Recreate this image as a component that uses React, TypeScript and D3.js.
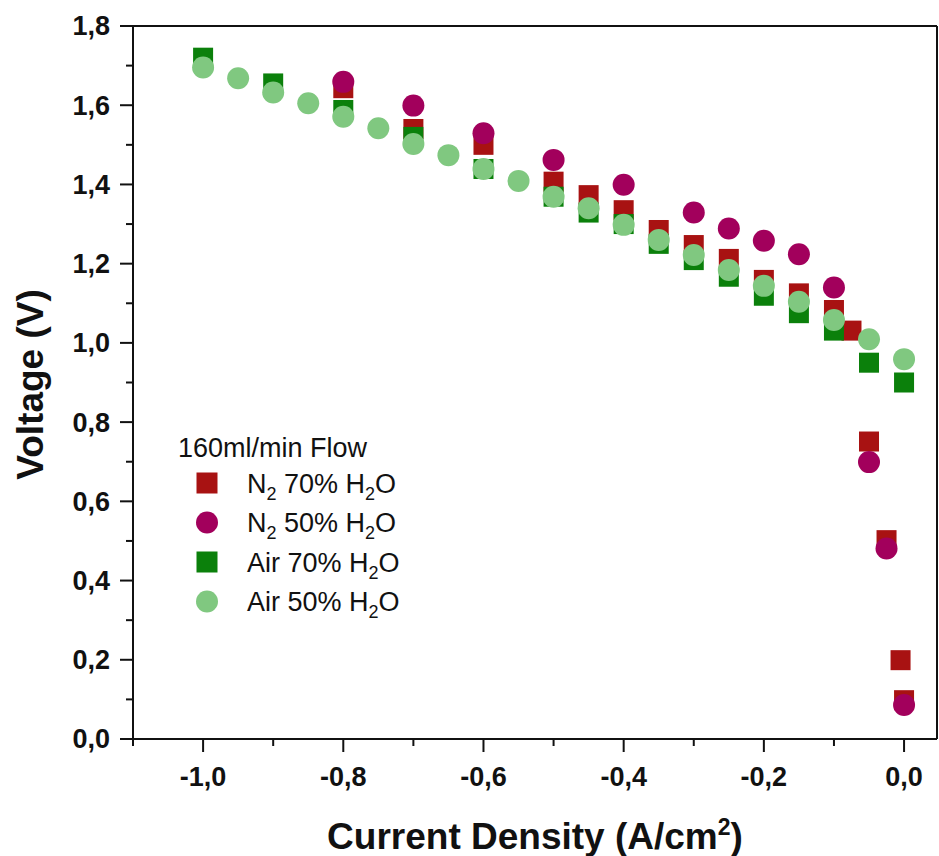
import React from "react";
import * as d3 from "d3";

// ---- data ----
const n2_70_x = [-0.8, -0.7, -0.6, -0.5, -0.45, -0.4, -0.35, -0.3, -0.25, -0.2, -0.15, -0.1, -0.075, -0.05, -0.025, -0.005, 0.0];
const n2_70_y = [1.643, 1.54, 1.5, 1.407, 1.373, 1.335, 1.285, 1.247, 1.212, 1.159, 1.125, 1.083, 1.031, 0.751, 0.502, 0.199, 0.098];

const n2_50_x = [-0.8, -0.7, -0.6, -0.5, -0.4, -0.3, -0.25, -0.2, -0.15, -0.1, -0.05, -0.025, 0.0];
const n2_50_y = [1.659, 1.599, 1.529, 1.462, 1.399, 1.329, 1.289, 1.258, 1.224, 1.14, 0.699, 0.481, 0.086];

const air_70_x = [-1.0, -0.9, -0.8, -0.7, -0.6, -0.5, -0.45, -0.4, -0.35, -0.3, -0.25, -0.2, -0.15, -0.1, -0.05, 0.0];
const air_70_y = [1.72, 1.655, 1.588, 1.52, 1.439, 1.369, 1.329, 1.3, 1.25, 1.209, 1.167, 1.119, 1.075, 1.031, 0.95, 0.9];

const air_50_x = [-1.0, -0.95, -0.9, -0.85, -0.8, -0.75, -0.7, -0.65, -0.6, -0.55, -0.5, -0.45, -0.4, -0.35, -0.3, -0.25, -0.2, -0.15, -0.1, -0.05, 0.0];
const air_50_y = [1.695, 1.668, 1.632, 1.605, 1.571, 1.542, 1.502, 1.474, 1.439, 1.409, 1.369, 1.34, 1.298, 1.26, 1.222, 1.184, 1.144, 1.104, 1.058, 1.009, 0.959];

const xMajorTicks = [-1.0, -0.8, -0.6, -0.4, -0.2, 0.0];
const xMinorTicks = [-1.1, -0.9, -0.7, -0.5, -0.3, -0.1];
const yMajorTicks = [0.0, 0.2, 0.4, 0.6, 0.8, 1.0, 1.2, 1.4, 1.6, 1.8];
const yMinorTicks = [0.1, 0.3, 0.5, 0.7, 0.9, 1.1, 1.3, 1.5, 1.7];

const legendTitle = "160ml/min Flow";

type Series = { name: string; pre: string; sub: string; mid: string; xs: number[]; ys: number[]; shape: "square" | "circle"; color: string };

const series: Series[] = [
  { name: "N2 70% H2O", pre: "N", sub: "2", mid: " 70% H", xs: n2_70_x, ys: n2_70_y, shape: "square", color: "#a81212" },
  { name: "N2 50% H2O", pre: "N", sub: "2", mid: " 50% H", xs: n2_50_x, ys: n2_50_y, shape: "circle", color: "#a2005c" },
  { name: "Air 70% H2O", pre: "Air 70% H", sub: "", mid: "", xs: air_70_x, ys: air_70_y, shape: "square", color: "#0b800b" },
  { name: "Air 50% H2O", pre: "Air 50% H", sub: "", mid: "", xs: air_50_x, ys: air_50_y, shape: "circle", color: "#80c880" },
];

const W = 939;
const H = 856;
const FONT = "'Liberation Sans', Arial, Helvetica, sans-serif";

export default function App() {
  const x = d3.scaleLinear().domain([-1.1, 0.047]).range([133, 937]);
  const y = d3.scaleLinear().domain([0, 1.8]).range([739, 26]);
  const fmt = (v: number) => d3.format(".1f")(v).replace(".", ",").replace("−", "-");

  const SQ = 20;
  const R = 11;

  const marker = (s: Series, cx: number, cy: number, key: string | number, size = SQ, r = R) =>
    s.shape === "square" ? (
      <rect key={key} x={cx - size / 2} y={cy - size / 2} width={size} height={size} fill={s.color} />
    ) : (
      <circle key={key} cx={cx} cy={cy} r={r} fill={s.color} />
    );

  const [x0, x1] = x.range();
  const [yb, yt] = y.range();

  return (
    <svg width={W} height={H} style={{ position: "absolute", left: 0, top: 0, display: "block", background: "#fff" }} fontFamily={FONT}>
      <rect width={W} height={H} fill="#fff" />
      {/* data */}
      {series.map((s, si) => (
        <g key={si}>{s.xs.map((xv, i) => marker(s, x(xv), y(s.ys[i]), i))}</g>
      ))}

      {/* frame */}
      <g stroke="#111" strokeWidth={2} fill="none">
        <line x1={x0} y1={yb} x2={x1} y2={yb} />
        <line x1={x0} y1={yb} x2={x0} y2={yt} />
        <line x1={x0} y1={yt} x2={x1} y2={yt} />
        <line x1={x1} y1={yb} x2={x1} y2={yt} />
        {xMajorTicks.map((t) => (
          <line key={"xM" + t} x1={x(t)} x2={x(t)} y1={yb} y2={yb + 13} />
        ))}
        {xMinorTicks.map((t) => (
          <line key={"xm" + t} x1={x(t)} x2={x(t)} y1={yb} y2={yb + 7} />
        ))}
        {yMajorTicks.map((t) => (
          <line key={"yM" + t} x1={x0} x2={x0 - 13} y1={y(t)} y2={y(t)} />
        ))}
        {yMinorTicks.map((t) => (
          <line key={"ym" + t} x1={x0} x2={x0 - 7} y1={y(t)} y2={y(t)} />
        ))}
      </g>

      {/* tick labels */}
      <g fontSize={27} fontWeight="bold" fill="#111">
        {xMajorTicks.map((t) => (
          <text key={"xl" + t} x={x(t)} y={786} textAnchor="middle">
            {fmt(t)}
          </text>
        ))}
        {yMajorTicks.map((t) => (
          <text key={"yl" + t} x={110} y={y(t)} dy="0.35em" textAnchor="end">
            {fmt(t)}
          </text>
        ))}
      </g>

      {/* axis titles */}
      <text x={(x0 + x1) / 2} y={849} textAnchor="middle" fontSize={37} fontWeight="bold" fill="#111">
        Current Density (A/cm<tspan dy={-14} fontSize={23}>2</tspan>
        <tspan dy={14}>)</tspan>
      </text>
      <text transform={`translate(43,${(yb + yt) / 2 + 2}) rotate(-90)`} textAnchor="middle" fontSize={37} fontWeight="bold" fill="#111">
        Voltage (V)
      </text>

      {/* legend */}
      <g fontSize={27} fill="#111">
        <text x={178} y={457}>{legendTitle}</text>
        {series.map((s, i) => {
          const cy = 483 + i * 39.5;
          const by = cy + 9.5;
          return (
            <g key={"lg" + i}>
              {marker(s, 207, cy, "m", 21, 11)}
              <text x={247} y={by}>
                {s.sub ? (
                  <>
                    {s.pre}
                    <tspan dy={7} fontSize={18}>{s.sub}</tspan>
                    <tspan dy={-7}>{s.mid}</tspan>
                  </>
                ) : (
                  <>{s.pre}</>
                )}
                <tspan dy={7} fontSize={18}>2</tspan>
                <tspan dy={-7}>O</tspan>
              </text>
            </g>
          );
        })}
      </g>
    </svg>
  );
}
